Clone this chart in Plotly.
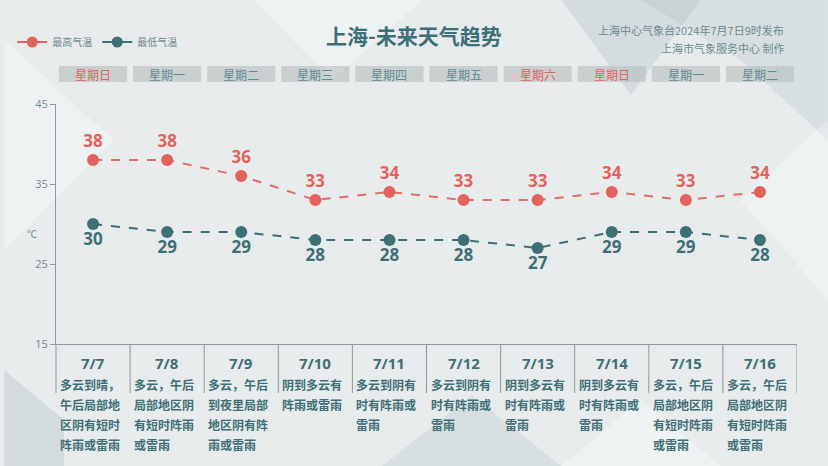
import plotly.graph_objects as go

# ---------------- data ----------------
dates = ["7/7", "7/8", "7/9", "7/10", "7/11", "7/12", "7/13", "7/14", "7/15", "7/16"]
weekdays = ["星期日", "星期一", "星期二", "星期三", "星期四", "星期五", "星期六", "星期日", "星期一", "星期二"]
high_temps = [38, 38, 36, 33, 34, 33, 33, 34, 33, 34]
low_temps = [30, 29, 29, 28, 28, 28, 27, 29, 29, 28]
descriptions = [
    ["多云到晴，", "午后局部地", "区阴有短时", "阵雨或雷雨"],
    ["多云，午后", "局部地区阴", "有短时阵雨", "或雷雨"],
    ["多云，午后", "到夜里局部", "地区阴有阵", "雨或雷雨"],
    ["阴到多云有", "阵雨或雷雨"],
    ["多云到阴有", "时有阵雨或", "雷雨"],
    ["多云到阴有", "时有阵雨或", "雷雨"],
    ["阴到多云有", "时有阵雨或", "雷雨"],
    ["阴到多云有", "时有阵雨或", "雷雨"],
    ["多云，午后", "局部地区阴", "有短时阵雨", "或雷雨"],
    ["多云，午后", "局部地区阴", "有短时阵雨", "或雷雨"],
]
y_ticks = [15, 25, 35, 45]
title = "上海-未来天气趋势"
source1 = "上海中心气象台2024年7月7日9时发布"
source2 = "上海市气象服务中心 制作"

# ---------------- style ----------------
W, H = 828, 466
ML, MR, MT, MB = 52, 31, 104, 122
PW, PH = W - ML - MR, H - MT - MB
RED = "#e4625c"
RED_LINE = "#de706a"
TEAL = "#3f6f76"
GREY_TXT = "#6f8a90"
AXIS = "#8b9a9c"
CJK = "Noto Sans CJK SC"
NUM = "Open Sans, Noto Sans CJK SC"
idx = list(range(len(dates)))


def px(x):
    return (x - ML) / PW


def py(y):
    return (H - MB - y) / PH


fig = go.Figure()

# main traces
fig.add_trace(go.Scatter(
    x=idx, y=high_temps, mode="lines+markers+text", showlegend=False,
    line=dict(color=RED_LINE, width=2, dash="dash"),
    marker=dict(color=RED, size=12),
    text=[str(v) for v in high_temps], textposition="top center",
    textfont=dict(family=NUM, size=17, color=RED, weight="bold"),
    cliponaxis=False, hoverinfo="skip"))
fig.add_trace(go.Scatter(
    x=idx, y=low_temps, mode="lines+markers+text", showlegend=False,
    line=dict(color=TEAL, width=2, dash="dash"),
    marker=dict(color=TEAL, size=12),
    text=[str(v) for v in low_temps], textposition="bottom center",
    textfont=dict(family=NUM, size=17, color=TEAL, weight="bold"),
    cliponaxis=False, hoverinfo="skip"))

# legend entries (solid line + marker)
for name, col in [("最高气温", RED), ("最低气温", TEAL)]:
    fig.add_trace(go.Scatter(x=[None], y=[None], mode="lines+markers", name=name,
                             line=dict(color=col, width=2), marker=dict(color=col, size=11)))

shapes = []
annotations = []

# background decoration
deco = [
    ([(560, 0), (700, 0), (630, 95)], "rgba(150,170,176,0.22)"),
    ([(640, 0), (828, 0), (828, 140), (740, 60)], "rgba(150,170,176,0.18)"),
    ([(250, 0), (420, 0), (330, 80)], "rgba(255,255,255,0.35)"),
    ([(0, 40), (110, 140), (0, 250)], "rgba(255,255,255,0.30)"),
    ([(0, 370), (60, 420), (60, 466), (0, 466)], "rgba(150,170,176,0.25)"),
    ([(380, 466), (470, 395), (560, 466)], "rgba(150,170,176,0.18)"),
    ([(560, 466), (640, 400), (720, 466)], "rgba(255,255,255,0.35)"),
    ([(740, 200), (828, 120), (828, 300)], "rgba(255,255,255,0.30)"),
]
for pts, col in deco:
    path = "M " + " L ".join(f"{px(a):.4f},{py(b):.4f}" for a, b in pts) + " Z"
    shapes.append(dict(type="path", xref="paper", yref="paper", path=path,
                       fillcolor=col, line=dict(width=0), layer="below"))

# bottom table
tbl_bottom = py(393)
shapes.append(dict(type="line", xref="paper", yref="paper", x0=0, x1=0, y0=0, y1=tbl_bottom,
                   line=dict(color=AXIS, width=1)))
for i in idx:
    shapes.append(dict(type="line", xref="x", yref="paper", x0=i + 0.5, x1=i + 0.5,
                       y0=0, y1=tbl_bottom, line=dict(color=AXIS, width=1)))

for i in idx:
    annotations.append(dict(x=i, y=py(363), xref="x", yref="paper", text=dates[i],
                            showarrow=False, font=dict(family=NUM, size=15, color=TEAL, weight="bold"),
                            xanchor="center", yanchor="middle"))
    for k, line in enumerate(descriptions[i]):
        annotations.append(dict(x=i - 0.5, y=py(384 + 20 * k), xref="x", yref="paper", text=line,
                                showarrow=False, xshift=2,
                                font=dict(family=CJK, size=12, color=TEAL, weight="bold"),
                                xanchor="left", yanchor="middle"))

# weekday boxes
for i in idx:
    shapes.append(dict(type="rect", xref="x", yref="paper", x0=i - 0.46, x1=i + 0.46,
                       y0=py(82), y1=py(66), fillcolor="rgba(186,192,194,0.65)", line=dict(width=0)))
    wk_col = RED if weekdays[i] in ("星期日", "星期六") else "#5f8b92"
    annotations.append(dict(x=i, y=py(74), xref="x", yref="paper", text=weekdays[i], showarrow=False,
                            font=dict(family=CJK, size=12, color=wk_col), xanchor="center", yanchor="middle"))

# title & source
annotations.append(dict(x=px(412), y=py(35), xref="paper", yref="paper", text=title, showarrow=False,
                        font=dict(family=CJK, size=21, color="#3e6f77", weight="bold"),
                        xanchor="center", yanchor="middle"))
annotations.append(dict(x=px(786), y=py(30), xref="paper", yref="paper", text=source1, showarrow=False,
                        font=dict(family=CJK, size=11, color=GREY_TXT), xanchor="right", yanchor="middle"))
annotations.append(dict(x=px(786), y=py(48), xref="paper", yref="paper", text=source2, showarrow=False,
                        font=dict(family=CJK, size=11, color=GREY_TXT), xanchor="right", yanchor="middle"))
# unit
annotations.append(dict(x=px(28), y=py(233), xref="paper", yref="paper", text="℃", showarrow=False,
                        font=dict(family=CJK, size=10, color=GREY_TXT), xanchor="center", yanchor="middle"))

fig.update_layout(
    width=W, height=H,
    margin=dict(l=ML, r=MR, t=MT, b=MB),
    paper_bgcolor="#e7ebec", plot_bgcolor="rgba(0,0,0,0)",
    shapes=shapes, annotations=annotations,
    showlegend=True,
    legend=dict(orientation="h", x=px(8), y=py(42), xanchor="left", yanchor="middle",
                font=dict(family=CJK, size=10, color=GREY_TXT), bgcolor="rgba(0,0,0,0)",
                itemwidth=30, tracegroupgap=0),
    xaxis=dict(range=[-0.5, len(dates) - 0.5], showgrid=False, zeroline=False, showticklabels=False,
               showline=True, linecolor=AXIS, linewidth=1, ticks=""),
    yaxis=dict(range=[15, 45], tickvals=y_ticks, showgrid=False, zeroline=False,
               showline=True, linecolor=AXIS, linewidth=1, ticks="outside", ticklen=5,
               tickcolor=AXIS, tickfont=dict(family=NUM, size=11, color=GREY_TXT)),
)

fig.write_html("out.html")
